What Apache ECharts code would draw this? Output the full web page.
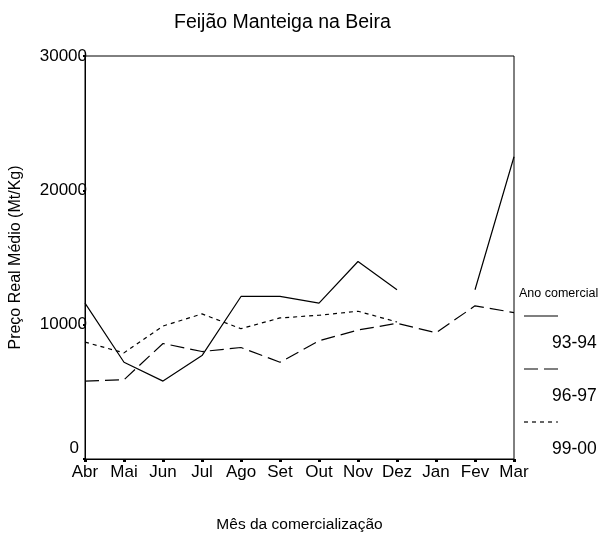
<!DOCTYPE html>
<html>
<head>
<meta charset="utf-8">
<script src="https://cdn.jsdelivr.net/npm/echarts@6/dist/echarts.min.js"></script>
<style>
  html, body { margin: 0; padding: 0; background: #fff; }
  #chart { width: 602px; height: 539px; }
</style>
</head>
<body>
<div id="chart"></div>
<script>
// meses do ano comercial
var months = ['Abr', 'Mai', 'Jun', 'Jul', 'Ago', 'Set', 'Out', 'Nov', 'Dez', 'Jan', 'Fev', 'Mar']
var seriesNames = ['93-94', '96-97', '99-00']
var v9394 = [11600, 7200, 5800, 7700, 12100, 12100, 11600, 14700, 12600, null, 12600, 22500]
var v9697 = [5800, 5900, 8600, 8000, 8300, 7200, 8800, 9600, 10100, 9400, 11400, 10900]
var v9900 = [8700, 7900, 9900, 10800, 9700, 10500, 10700, 11000, 10200, null, null, null]
var yTicks = [0, 10000, 20000, 30000]

var font = 'Liberation Sans, Arial, sans-serif'
var dashes = ['solid', [14, 6], [4, 4]]
var values = [v9394, v9697, v9900]

var series = seriesNames.map(function (name, i) {
  return {
    name: name,
    type: 'line',
    data: values[i],
    symbol: 'none',
    connectNulls: false,
    lineStyle: { color: '#000', width: 1.2, type: dashes[i] }
  }
})

// legenda desenhada ao lado direito
var legendItems = [{
  type: 'text', left: 519, top: 287,
  style: { text: 'Ano comercial', font: '12.5px ' + font, fill: '#000' }
}]
seriesNames.forEach(function (name, i) {
  var y = 316 + i * 53
  legendItems.push({
    type: 'line',
    shape: { x1: 524, y1: y, x2: 558, y2: y },
    style: { stroke: '#000', lineWidth: 1.2, lineDash: dashes[i] === 'solid' ? null : dashes[i] }
  })
  legendItems.push({
    type: 'text', left: 552, top: y + 18,
    style: { text: name, font: '17.5px ' + font, fill: '#000' }
  })
})

var chart = echarts.init(document.getElementById('chart'))
chart.setOption({
  animation: false,
  title: {
    text: 'Feijão Manteiga na Beira',
    left: 169, top: 8,
    textStyle: { fontFamily: font, fontSize: 19.5, fontWeight: 'normal', color: '#000' }
  },
  grid: {
    left: 82, right: 88, top: 56, bottom: 80,
    show: true, borderColor: '#000', borderWidth: 1
  },
  xAxis: {
    type: 'category',
    data: months,
    boundaryGap: false,
    name: 'Mês da comercialização',
    nameLocation: 'middle',
    nameGap: 58,
    nameTextStyle: { fontFamily: font, fontSize: 15.5, color: '#000' },
    axisLine: { lineStyle: { color: '#000', width: 1 } },
    axisTick: { alignWithLabel: true, length: 3, lineStyle: { color: '#000', width: 3 } },
    axisLabel: { interval: 0, margin: 5, fontFamily: font, fontSize: 17, color: '#000' },
    splitLine: { show: false }
  },
  yAxis: {
    type: 'value',
    min: yTicks[0],
    max: yTicks[yTicks.length - 1],
    interval: 10000,
    name: 'Preço Real Médio (Mt/Kg)',
    nameLocation: 'middle',
    nameGap: 61,
    nameTextStyle: { fontFamily: font, fontSize: 16, color: '#000' },
    axisLine: { show: true, lineStyle: { color: '#000', width: 1 } },
    axisTick: { show: true, length: 2, lineStyle: { color: '#000', width: 2 } },
    axisLabel: {
      margin: -2,
      fontFamily: font, fontSize: 17, color: '#000',
      formatter: function (v) { return v === 0 ? '{z|0}' : String(v) },
      rich: { z: { fontFamily: font, fontSize: 17, color: '#000', padding: [0, 8, 22, 0] } }
    },
    splitLine: { show: false }
  },
  graphic: legendItems,
  series: series
})
</script>
</body>
</html>
